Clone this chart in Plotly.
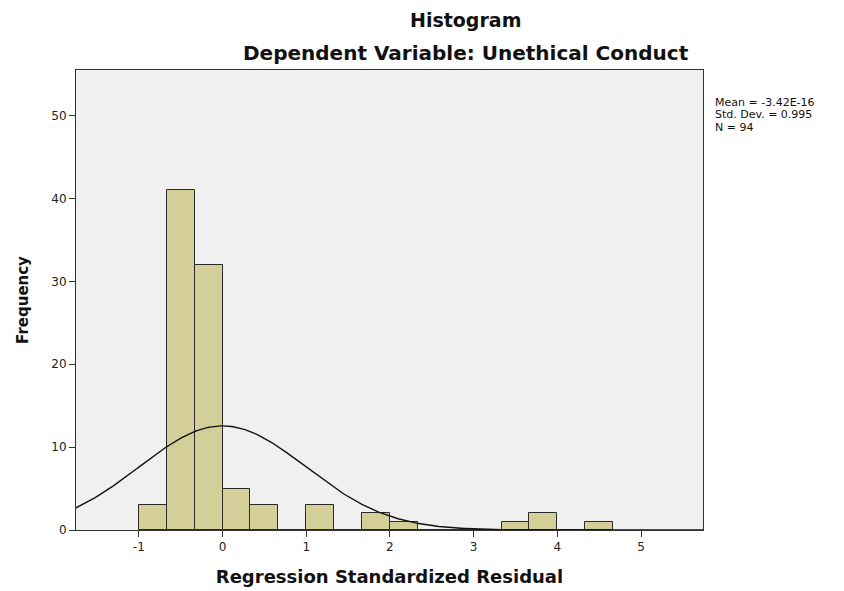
import numpy as np
import plotly.graph_objects as go

# Data
bin_width = 1 / 3
bin_start = -1.0
counts = [3, 41, 32, 5, 3, 0, 3, 0, 2, 1, 0, 0, 0, 1, 2, 0, 1]
mean_val = -3.42e-16
std_val = 0.995
n_val = 94
x_ticks = [-1, 0, 1, 2, 3, 4, 5]
y_ticks = [0, 10, 20, 30, 40, 50]
stat_lines = ["Mean = -3.42E-16", "Std. Dev. = 0.995", "N = 94"]

centers = [bin_start + (i + 0.5) * bin_width for i in range(len(counts))]

x_min, x_max = -1.75, 5.74
xs = np.linspace(x_min, x_max, 400)
ys = n_val * bin_width / (std_val * np.sqrt(2 * np.pi)) * np.exp(-0.5 * ((xs - mean_val) / std_val) ** 2)

font = "DejaVu Sans, Arial, sans-serif"

fig = go.Figure()
fig.add_trace(go.Bar(
    x=centers, y=counts, width=bin_width,
    marker=dict(color="#D4CF98", line=dict(color="#2a2a2a", width=1)),
    hoverinfo="x+y", showlegend=False,
))
fig.add_trace(go.Scatter(
    x=xs, y=ys, mode="lines", line=dict(color="#111", width=1.4),
    showlegend=False, hoverinfo="skip",
))

fig.update_layout(
    width=844, height=591,
    margin=dict(l=68, r=149, t=62, b=69),
    paper_bgcolor="white", plot_bgcolor="#F0F0F0",
    font=dict(family=font, color="#222", size=12),
    bargap=0,
)
fig.update_xaxes(
    range=[x_min, x_max], tickvals=x_ticks, ticktext=[str(v) for v in x_ticks],
    showgrid=False, zeroline=False, showline=True, linecolor="#333", linewidth=1, mirror=True,
    ticks="outside", ticklen=6, tickcolor="#333", tickfont=dict(size=12),
    title=dict(text="<b>Regression Standardized Residual</b>", font=dict(size=18, color="#111"), standoff=16),
)
fig.update_yaxes(
    range=[0, 55.5], tickvals=y_ticks,
    showgrid=False, zeroline=False, showline=True, linecolor="#333", linewidth=1, mirror=True,
    ticks="outside", ticklen=6, tickcolor="#333", tickfont=dict(size=12),
    title=dict(text="<b>Frequency</b>", font=dict(size=15, color="#111"), standoff=19),
)

fig.add_annotation(text="<b>Histogram</b>", xref="paper", yref="paper", x=0.622, y=1.0,
                   yshift=50.5, showarrow=False, font=dict(size=19, color="#111"), xanchor="center", yanchor="middle")
fig.add_annotation(text="<b>Dependent Variable: Unethical Conduct</b>", xref="paper", yref="paper", x=0.622, y=1.0,
                   yshift=17, showarrow=False, font=dict(size=20, color="#111"), xanchor="center", yanchor="middle")
for i, line in enumerate(stat_lines):
    fig.add_annotation(
        text=line, xref="paper", yref="paper", x=1.0, y=1.0, xshift=10, yshift=-32 - 12.5 * i,
        showarrow=False, align="left", xanchor="left", yanchor="middle",
        font=dict(size=11, color="#111"),
    )

fig.write_html("out.html")
